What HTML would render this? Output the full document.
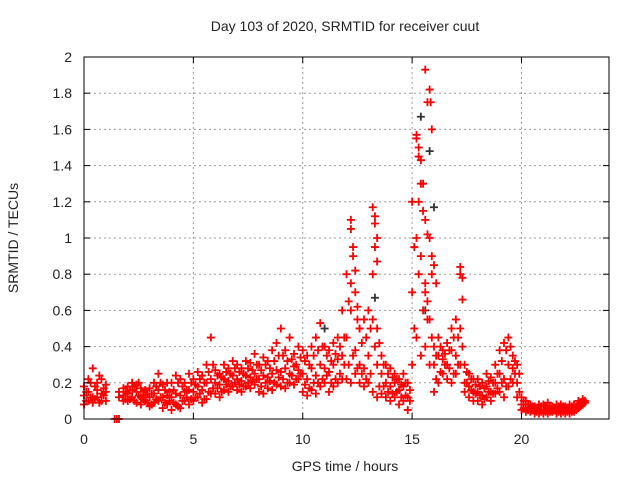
<!DOCTYPE html>
<html><head><meta charset="utf-8"><style>
body{margin:0;background:#fff}
svg text{font-family:"Liberation Sans",sans-serif;font-size:14px;fill:#222}
</style></head><body>
<svg id="chart" width="640" height="480" xmlns="http://www.w3.org/2000/svg">
<rect width="640" height="480" fill="#fff"/>
<text x="345" y="31" text-anchor="middle">Day 103 of 2020, SRMTID for receiver cuut</text>
<text x="345" y="471" text-anchor="middle">GPS time / hours</text>
<text x="18" y="238" text-anchor="middle" transform="rotate(-90 18 238)">SRMTID / TECUs</text>
<g id="grid"></g>
<g id="marks"></g>
<rect x="84" y="57" width="525" height="362" fill="none" stroke="#000" stroke-width="1"/>
<g id="ticks"></g>
</svg>
<script>
const yTicks=[0,0.2,0.4,0.6,0.8,1,1.2,1.4,1.6,1.8,2];
const yTickLabels=["0","0.2","0.4","0.6","0.8","1","1.2","1.4","1.6","1.8","2"];
const xTicks=[0,5,10,15,20];
const tStep=0.2;
const seriesLow=[.08,.1,.09,.12,.1, .1,null,0,0,.1, .1,.12,.09,.08,.1, .07,.09,.1,.06,.08, .05,.08,.06,.1,.08, .1,.12,.09,.11,.14, .14,.12,.16,.15,.18, .16,.15,.18,.17,.19, .15,.14,.17,.16,.19, .18,.17,.2,.19,.22, .15,.13,.16,.14,.18, .2,.15,.18,.2,.22, .22,.2,.25,.2,.18, .2,.15,.12,.14,.12, .1,.12,.08,.1,.05, .3,.45,.35,.4,.3, .15,.2,.25,.22,.2, .25,.3,.15,.12,.1, .1,.08,.12,.1,.14, .15,.12,.18,.2,.12, .05,.04,.04,.03,.03, .03,.03,.04,.03,.03, .03,.03,.04,.06,.08];
const seriesMid=[.13,.15,.12,.16,.14, .15,null,null,.12,.13, .14,.16,.15,.12,.13, .12,.14,.16,.12,.13, .12,.14,.13,.15,.16, .15,.18,.16,.2,.22, .2,.19,.22,.21,.24, .22,.21,.24,.23,.25, .22,.24,.23,.25,.27, .26,.28,.25,.29,.27, .25,.22,.28,.24,.3, .28,.26,.3,.33,.35, .45,.6,.38,.3,.28, .35,.8,.3,.25,.2, .18,.2,.16,.18,.12, .7,1.0,.9,.75,.55, .3,.35,.33,.3,.38, .35,.5,.2,.18,.15, .15,.13,.18,.15,.2, .25,.22,.3,.28,.2, .08,.06,.06,.05,.05, .05,.06,.05,.05,.06, .05,.05,.06,.08,.1];
const seriesHigh=[.18,.22,.28,.2,.22, .19,null,null,.15,.17, .18,.2,.19,.17,.16, .17,.2,.25,.19,.2, .2,.24,.22,.2,.25, .22,.26,.24,.3,.45, .27,.25,.3,.28,.32, .3,.28,.32,.31,.36, .3,.34,.32,.38,.42, .5,.38,.45,.36,.4, .38,.35,.4,.45,.53, .4,.38,.42,.45,.6, .8,1.1,.7,.5,.55, .6,1.17,.5,.35,.3, .28,.25,.22,.25,.2, 1.2,1.57,1.3,1.93,1.0, .4,.45,.38,.42,.5, .55,.84,.3,.25,.22, .22,.2,.25,.23,.3, .38,.42,.45,.35,.3, .12,.1,.08,.07,.08, .08,.09,.07,.08,.08, .07,.08,.08,.1,.11];
const offLow=[.1,.12,.11,.09,.13, null,null,0,null,.11, .11,.1,.13,.11,.09, .08,.11,.12,.09,.1, .09,.07,.1,.12,.11, .12,.14,.11,.15,.17, .17,.15,.19,.18,.2, .19,.18,.2,.21,.22, .18,.2,.21,.2,.23, .22,.2,.24,.22,.25, .19,.17,.2,.2,.22, .24,.2,.22,.25,.3, .3,.35,.28,.25,.22, .25,.4,.18,.18,.15, .14,.15,.12,.13,.1, .5,.8,.6,.55,.45, .22,.26,.3,.28,.25, .3,.4,.2,.16,.14, .13,.11,.15,.14,.17, .2,.18,.22,.25,.15, .06,.05,.05,.04,.04, .04,.04,.05,.04,.04, .04,.04,.05,.07,.09];
const offHigh=[.15,.2,.18,.24,.17, null,null,null,null,.15, .16,.18,.2,.15,.14, .14,.18,.2,.16,.15, .16,.2,.18,.16,.2, .19,.22,.2,.26,.3, .24,.23,.26,.25,.28, .26,.25,.28,.27,.3, .27,.3,.28,.32,.35, .35,.32,.33,.3,.34, .32,.3,.35,.38,.4, .35,.32,.36,.4,.45, .65,.95,.55,.42,.45, .5,1.08,.42,.3,.25, .23,.22,.19,.2,.16, .95,1.45,1.15,1.75,.8, .35,.4,.36,.38,.45, .45,.78,.26,.22,.19, .18,.17,.21,.2,.25, .32,.38,.4,.32,.25, .1,.08,.07,.06,.07, .07,.07,.06,.07,.07, .06,.07,.07,.09,.1];
const spikeTimes=[12.2,12.3,12.4,12.2,13.3,13.4,13.3,13.4,15.3,15.4,15.5,15.6,15.7,15.8,15.85,15.9,15.7,15.9,16.0,17.2,17.3,15.2,15.3,15.6,16.1,12.5,12.6,13.2];
const spikeValues=[1.05,0.9,0.82,0.75,1.12,1.0,0.95,0.87,1.5,1.43,1.3,1.1,1.02,1.82,1.75,1.6,0.65,0.9,0.85,0.8,0.66,1.55,1.2,0.7,0.75,0.62,0.5,0.55];
const grayTimes=[13.3,15.4,15.8,16.0,11.0,15.6];
const grayValues=[0.67,1.67,1.48,1.17,0.5,0.6];
const X0=84,X1=609,Y0=419,Y1=57,XMAX=24,YMAX=2;
function sx(t){return X0+(X1-X0)*t/XMAX;}
function sy(v){return Y0-(Y0-Y1)*v/YMAX;}
const NS="http://www.w3.org/2000/svg";
const grid=document.getElementById('grid'),ticks=document.getElementById('ticks'),marks=document.getElementById('marks');
function mk(tag,attrs,parent){const e=document.createElementNS(NS,tag);for(const k in attrs)e.setAttribute(k,attrs[k]);parent.appendChild(e);return e;}
yTicks.forEach((v,i)=>{
  const y=sy(v);
  if(i>0&&i<yTicks.length-1){const g=mk('line',{x1:X0,x2:X1,y1:y,y2:y,stroke:'#999','stroke-dasharray':'2,3'},grid);
  
  }
  mk('line',{x1:X0,x2:X0+6,y1:y,y2:y,stroke:'#000'},ticks);
  mk('line',{x1:X1,x2:X1-6,y1:y,y2:y,stroke:'#000'},ticks);
  const t=mk('text',{x:X0-12,y:y+5,'text-anchor':'end'},ticks);t.textContent=yTickLabels[i];
  
  
});
xTicks.forEach(v=>{
  const x=sx(v);
  if(v>0){const g=mk('line',{x1:x,x2:x,y1:Y0,y2:Y1,stroke:'#999','stroke-dasharray':'2,3'},grid);
  
  }
  mk('line',{x1:x,x2:x,y1:Y0,y2:Y0-6,stroke:'#000'},ticks);
  mk('line',{x1:x,x2:x,y1:Y1,y2:Y1+6,stroke:'#000'},ticks);
  const t=mk('text',{x:x,y:Y0+25,'text-anchor':'middle'},ticks);t.textContent=String(v);
  
  
});
function cross(t,v,col){
  const x=sx(t),y=sy(v);
  const p=mk('path',{d:`M${x-4} ${y}H${x+4}M${x} ${y-4}V${y+4}`,stroke:col,'stroke-width':1.8,fill:'none'},marks);
  
  
}
grayTimes.forEach((t,i)=>cross(t,grayValues[i],'#333'));
[seriesLow,seriesMid,seriesHigh].forEach(s=>s.forEach((v,i)=>{if(v!==null)cross(i*tStep,v,'#f00');}));
[offLow,offHigh].forEach(s=>s.forEach((v,i)=>{if(v!==null)cross(i*tStep+0.1,v,'#f00');}));
spikeTimes.forEach((t,i)=>cross(t,spikeValues[i],'#f00'));
</script>
</body></html>
